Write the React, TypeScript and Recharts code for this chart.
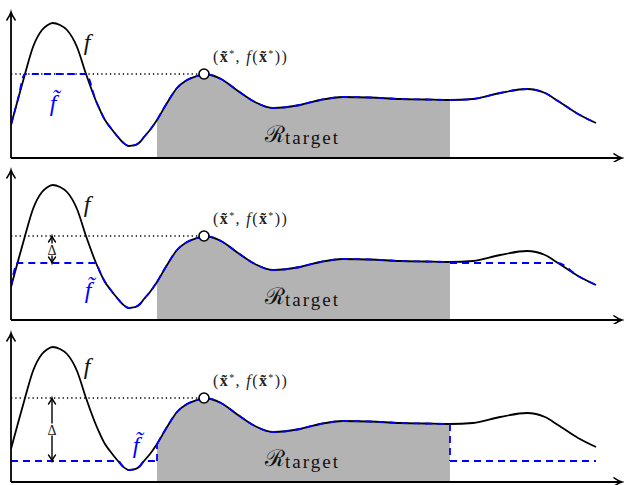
import { Area, ComposedChart, Line, ReferenceDot, ReferenceLine, XAxis, YAxis } from "recharts";

// f sampled along x (px from the y axis) -> height above the x axis
const xs = [0, 6.5, 14, 22, 31, 36, 41.5, 49, 56, 66, 75, 85, 89, 94, 99, 107, 112, 118, 124, 129, 133, 139, 146, 156, 166, 176, 186, 193, 210, 227, 244, 262, 289, 309, 332, 359, 389, 414, 439, 462, 489, 516, 534, 547, 567, 585];
const fValues = [33, 57, 84, 111, 128, 132.5, 135, 133, 128, 111, 84, 57, 48, 38, 31, 21, 15.5, 12, 12.8, 16, 21, 28, 38, 55, 70, 78, 82, 84, 79, 67, 56, 50, 53, 58, 61, 60.5, 59, 58.5, 58, 59, 65, 69, 65, 57, 44, 35];

const X_STAR = 193;
const REGION = [146, 439];
const deltas = [0, 27, 63];
const tildeLabelX = [42, 77, 125];
const tildeLabelY = [47, 22, 29];
const axisTops = [146, 150, 149];

const BLUE = "#0000ff";
const SERIF = "'Liberation Serif', 'DejaVu Serif', serif";

const F = xs.map((x, i) => ({ x, y: fValues[i] }));
const fAt = (x: number) => F.find((p) => p.x === x)!.y;
const LEVEL = fAt(X_STAR);

function tildeSegments(cap: number) {
  const [a, b] = REGION;
  const clip = (p: { x: number; y: number }) => ({ x: p.x, y: Math.min(p.y, cap) });
  return {
    left: F.filter((p) => p.x <= a).map(clip),
    mid: F.filter((p) => p.x >= a && p.x <= b),
    right: F.filter((p) => p.x >= b).map(clip),
    jumps: [
      [{ x: a, y: Math.min(fAt(a), cap) }, { x: a, y: fAt(a) }],
      [{ x: b, y: fAt(b) }, { x: b, y: Math.min(fAt(b), cap) }],
    ],
  };
}

function arrowHead(x: number, y: number, ux: number, uy: number, len = 8, half = 4.2) {
  const bx = x - ux * len;
  const by = y - uy * len;
  const nx = -uy;
  const ny = ux;
  const cx = x - ux * len * 0.4;
  const cy = y - uy * len * 0.4;
  return `M ${bx + nx * half} ${by + ny * half} Q ${cx + nx * half * 0.2} ${cy + ny * half * 0.2} ${x} ${y} Q ${cx - nx * half * 0.2} ${cy - ny * half * 0.2} ${bx - nx * half} ${by - ny * half}`;
}

const axisShape = (p: any) => {
  const { x1, y1, x2, y2 } = p;
  const len = Math.hypot(x2 - x1, y2 - y1) || 1;
  const ux = (x2 - x1) / len;
  const uy = (y2 - y1) / len;
  return (
    <g>
      <line x1={x1} y1={y1} x2={x2 - ux} y2={y2 - uy} stroke="#000" strokeWidth={1.8} />
      <path d={arrowHead(x2, y2, ux, uy)} fill="none" stroke="#000" strokeWidth={1.5} strokeLinecap="round" />
    </g>
  );
};

const deltaShape = (p: any) => {
  const x = p.x1;
  const top = Math.min(p.y1, p.y2);
  const bot = Math.max(p.y1, p.y2);
  const mid = (top + bot) / 2;
  return (
    <g>
      <line x1={x} y1={top} x2={x} y2={bot} stroke="#000" strokeWidth={1.4} />
      <path d={arrowHead(x, top, 0, -1, 6, 3.5)} fill="none" stroke="#000" strokeWidth={1.4} strokeLinecap="round" />
      <path d={arrowHead(x, bot, 0, 1, 6, 3.5)} fill="none" stroke="#000" strokeWidth={1.4} strokeLinecap="round" />
      <rect x={x - 6} y={mid - 6} width={12} height={12} fill="#fff" />
      <text x={x} y={mid + 5} textAnchor="middle" fontFamily={SERIF} fontSize={14} fill="#222">
        Δ
      </text>
    </g>
  );
};

function Panel({ idx, height }: { idx: number; height: number }) {
  const cap = LEVEL - deltas[idx];
  const seg = tildeSegments(cap);
  const blue = {
    dataKey: "y",
    stroke: BLUE,
    strokeWidth: 1.8,
    strokeDasharray: "7 5",
    dot: false,
    activeDot: false,
    isAnimationActive: false,
  } as const;
  return (
    <ComposedChart width={624} height={height} margin={{ top: 8, right: 2, bottom: height - 158, left: 11 }}>
      <XAxis type="number" dataKey="x" domain={[0, 611]} allowDataOverflow hide />
      <YAxis type="number" domain={[0, 150]} allowDataOverflow hide />
      <Area data={seg.mid} dataKey="y" type="monotone" baseValue={0} fill="#b3b3b3" fillOpacity={1} stroke="none" isAnimationActive={false} />
      <Line
        data={[{ x: 0, y: LEVEL }, { x: X_STAR, y: LEVEL }]}
        dataKey="y"
        type="linear"
        stroke="#000"
        strokeWidth={1.3}
        strokeDasharray="1.3 3"
        dot={false}
        activeDot={false}
        isAnimationActive={false}
      />
      <Line data={F} dataKey="y" type="monotone" stroke="#000" strokeWidth={1.8} dot={false} activeDot={false} isAnimationActive={false} />
      <Line data={seg.left} type="monotone" {...blue} />
      <Line data={seg.mid} type="monotone" {...blue} />
      <Line data={seg.right} type="monotone" {...blue} />
      <Line data={seg.jumps[0]} type="linear" {...blue} />
      <Line data={seg.jumps[1]} type="linear" {...blue} />
      {deltas[idx] > 0 && (
        <ReferenceLine segment={[{ x: 41, y: LEVEL }, { x: 41, y: cap }]} ifOverflow="visible" shape={deltaShape} />
      )}
      <ReferenceLine segment={[{ x: 0, y: 0 }, { x: 611, y: 0 }]} ifOverflow="visible" shape={axisShape} />
      <ReferenceLine segment={[{ x: 0, y: 0 }, { x: 0, y: axisTops[idx] }]} ifOverflow="visible" shape={axisShape} />
      <ReferenceDot x={X_STAR} y={LEVEL} r={5} fill="#fff" stroke="#000" strokeWidth={1.6} ifOverflow="visible" />
      <ReferenceDot
        x={76}
        y={108}
        ifOverflow="visible"
        shape={(p: any) => (
          <text x={p.cx} y={p.cy} textAnchor="middle" fontFamily={SERIF} fontStyle="italic" fontSize={24} fill="#111">
            f
          </text>
        )}
      />
      <ReferenceDot
        x={tildeLabelX[idx]}
        y={tildeLabelY[idx]}
        ifOverflow="visible"
        shape={(p: any) => (
          <text x={p.cx} y={p.cy} textAnchor="middle" fontFamily={SERIF} fontStyle="italic" fontSize={24} fill={BLUE}>
            {"f\u0303"}
          </text>
        )}
      />
      <ReferenceDot
        x={202}
        y={96}
        ifOverflow="visible"
        shape={(p: any) => (
          <text x={p.cx} y={p.cy} fontFamily={SERIF} fontSize={16} letterSpacing={1.4} fill="#222">
            (<tspan fontWeight="bold">x̃</tspan>
            <tspan dy={-5} fontSize={10}>*</tspan>
            <tspan dy={5}>, </tspan>
            <tspan fontStyle="italic">f</tspan>(<tspan fontWeight="bold">x̃</tspan>
            <tspan dy={-5} fontSize={10}>*</tspan>
            <tspan dy={5}>))</tspan>
          </text>
        )}
      />
      <ReferenceDot
        x={254}
        y={16}
        ifOverflow="visible"
        shape={(p: any) => (
          <text x={p.cx} y={p.cy} fontFamily={SERIF} fill="#111">
            <tspan fontSize={23}>ℛ</tspan>
            <tspan fontSize={19} dy={2} letterSpacing={2}>
              target
            </tspan>
          </text>
        )}
      />
    </ComposedChart>
  );
}

export default function App() {
  return (
    <div style={{ position: "absolute", left: 0, top: 0, width: 624, height: 485, background: "#fff" }}>
      <Panel idx={0} height={162} />
      <Panel idx={1} height={162} />
      <Panel idx={2} height={161} />
    </div>
  );
}
